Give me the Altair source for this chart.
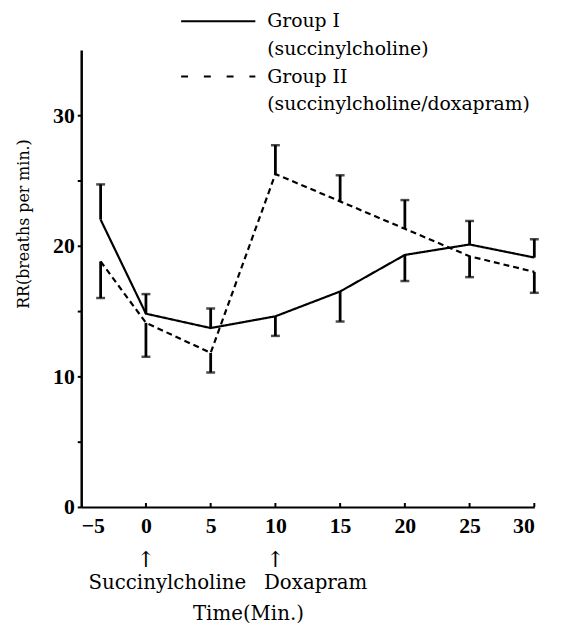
import altair as alt
import pandas as pd

# ---- data ----
time_min = [-3.5, 0, 5, 10, 15, 20, 25, 30]
g1_mean = [22.0, 14.8, 13.7, 14.6, 16.5, 19.3, 20.1, 19.1]
g1_err_end = [24.7, 16.3, 15.2, 13.1, 14.2, 17.3, 21.9, 20.5]
g2_mean = [18.8, 14.1, 11.8, 25.5, 23.4, 21.3, 19.2, 18.0]
g2_err_end = [16.0, 11.5, 10.3, 27.7, 25.4, 23.5, 17.6, 16.4]
groups = ["Group I", "Group II"]

x_tick_values = [-5, 0, 5, 10, 15, 20, 25, 30]
y_tick_values = [0, 5, 10, 15, 20, 25, 30]
event_times = [0, 10]
event_labels = ["Succinylcholine", "Doxapram"]

legend_titles = ["Group  I", "Group  II"]
legend_subtitles = ["(succinylcholine)", "(succinylcholine/doxapram)"]

rows = []
for g, means, ends in [(groups[0], g1_mean, g1_err_end), (groups[1], g2_mean, g2_err_end)]:
    for t, m, e in zip(time_min, means, ends):
        rows.append({"time": t, "mean": m, "err": e, "group": g})
df = pd.DataFrame(rows)

W, H = 458, 462
SERIF = "DejaVu Serif"
NUMF = "Liberation Serif"

xscale = alt.Scale(domain=[-5, 30], nice=False, zero=False)
yscale = alt.Scale(domain=[0, 35], nice=False, zero=True)

base = alt.Chart(df)

xaxis = alt.Axis(values=x_tick_values, ticks=False, grid=False, title=None,
                 labelFont=NUMF, labelFontSize=22, labelFontWeight="bold", labelColor="black",
                 labelPadding=9, domainColor="black", domainWidth=2,
                 labelExpr="datum.value < 0 ? '\u2212' + (-datum.value) : datum.label")
yaxis = alt.Axis(values=y_tick_values, grid=False, title=None,
                 labelFont=NUMF, labelFontSize=22, labelFontWeight="bold", labelColor="black",
                 tickSize=4, tickWidth=2, tickColor="black", labelPadding=3,
                 domainColor="black", domainWidth=2.5,
                 labelExpr="datum.value % 10 == 0 ? datum.label : ''")

lines = base.mark_line(color="black", strokeWidth=2.2).encode(
    x=alt.X("time:Q", scale=xscale, axis=xaxis),
    y=alt.Y("mean:Q", scale=yscale, axis=yaxis),
    strokeDash=alt.StrokeDash("group:N", scale=alt.Scale(domain=groups, range=[[1, 0], [6, 4]]), legend=None),
)

bars = base.mark_rule(color="black", strokeWidth=2.8).encode(
    x="time:Q", y="mean:Q", y2="err:Q"
)
caps = base.mark_tick(color="black", orient="horizontal", size=9, thickness=2.5).encode(
    x="time:Q", y="err:Q"
)

# small inward ticks on the x axis
xt = alt.Chart(pd.DataFrame({"v": x_tick_values[1:]})).mark_rule(color="black", strokeWidth=2).encode(
    x=alt.X("v:Q", scale=xscale), y=alt.value(H), y2=alt.value(H - 4)
)

one = pd.DataFrame({"a": [0]})

ytitle = alt.Chart(one).mark_text(text="RR(breaths  per  min.)", font=SERIF, fontSize=16,
                                  angle=270, color="black").encode(
    x=alt.value(-58), y=alt.value(176))

ev = pd.DataFrame({"t": event_times, "lab": event_labels})
arrows = alt.Chart(ev).mark_text(text="\u2191", font=SERIF, fontSize=22, color="black").encode(
    x=alt.X("t:Q", scale=xscale), y=alt.value(H + 54))
ev_lab1 = alt.Chart(one).mark_text(text=event_labels[0], font=SERIF, fontSize=20, color="black").encode(
    x=alt.value(87), y=alt.value(H + 77))
ev_lab2 = alt.Chart(one).mark_text(text=event_labels[1], font=SERIF, fontSize=20, color="black").encode(
    x=alt.value(237), y=alt.value(H + 77))
xtitle = alt.Chart(one).mark_text(text="Time(Min.)", font=SERIF, fontSize=20, color="black").encode(
    x=alt.value(169), y=alt.value(H + 108))

# manual legend
LEG_Y = -29
leg_solid = alt.Chart(one).mark_rule(color="black", strokeWidth=2).encode(
    x=alt.value(101), x2=alt.value(176), y=alt.value(LEG_Y))
leg_dash = alt.Chart(one).mark_rule(color="black", strokeWidth=2, strokeDash=[7, 16]).encode(
    x=alt.value(101), x2=alt.value(176), y=alt.value(LEG_Y + 56))
leg_texts = []
for i, (tt, st) in enumerate(zip(legend_titles, legend_subtitles)):
    y0 = LEG_Y + i * 56
    leg_texts.append(alt.Chart(one).mark_text(text=tt, font=SERIF, fontSize=19, align="left",
                                              baseline="middle", color="black").encode(
        x=alt.value(188), y=alt.value(y0)))
    leg_texts.append(alt.Chart(one).mark_text(text=st, font=SERIF, fontSize=19, align="left",
                                              baseline="middle", color="black").encode(
        x=alt.value(188), y=alt.value(y0 + 28)))

chart = alt.layer(lines, bars, caps, xt, ytitle, arrows, ev_lab1, ev_lab2, xtitle,
                  leg_solid, leg_dash, *leg_texts).properties(
    width=W, height=H,
    autosize=alt.AutoSizeParams(type="none"),
    padding={"left": 74, "top": 39, "right": 30, "bottom": 120},
    background="white",
).configure_view(stroke=None)

chart.save("out.html", embed_options={"renderer": "svg", "actions": False})
